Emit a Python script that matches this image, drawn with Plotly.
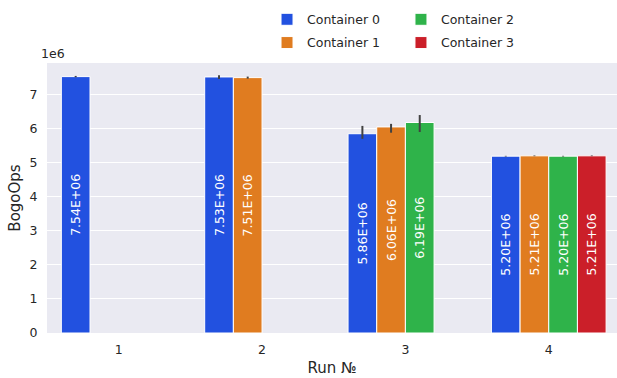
import plotly.graph_objects as go

runs = ["1", "2", "3", "4"]
series_names = ["Container 0", "Container 1", "Container 2", "Container 3"]
c0 = [7.54e6, 7.53e6, 5.86e6, 5.20e6]
c1 = [None, 7.51e6, 6.06e6, 5.21e6]
c2 = [None, None, 6.19e6, 5.20e6]
c3 = [None, None, None, 5.21e6]
c0_err_plus = [0.02e6, 0.05e6, 0.23e6, 0.01e6]
c0_err_minus = [0.02e6, 0.06e6, 0.15e6, 0.01e6]
c1_err_plus = [None, 0.03e6, 0.09e6, 0.01e6]
c1_err_minus = [None, 0.03e6, 0.17e6, 0.01e6]
c2_err_plus = [None, None, 0.22e6, 0.01e6]
c2_err_minus = [None, None, 0.28e6, 0.01e6]
c3_err_plus = [None, None, None, 0.01e6]
c3_err_minus = [None, None, None, 0.01e6]
colors = ["#2251E0", "#E07C20", "#2FB34A", "#CB1F29"]
y_ticks = [0, 1, 2, 3, 4, 5, 6, 7]

values = [c0, c1, c2, c3]
errs_p = [c0_err_plus, c1_err_plus, c2_err_plus, c3_err_plus]
errs_m = [c0_err_minus, c1_err_minus, c2_err_minus, c3_err_minus]
legend_ids = ["legend", "legend", "legend2", "legend2"]

FONT = "DejaVu Sans"
TXT = "#262626"

fig = go.Figure()
for name, vals, ep, em, col, lg in zip(series_names, values, errs_p, errs_m, colors, legend_ids):
    fig.add_trace(go.Bar(
        x=runs, y=vals, name=name,
        marker=dict(color=col, line=dict(color="white", width=1)),
        text=[f"{v:.2E}" if v is not None else "" for v in vals],
        textposition="inside", insidetextanchor="middle", textangle=-90,
        textfont=dict(color="white", size=12.5, family=FONT),
        error_y=dict(type="data", array=ep, arrayminus=em, symmetric=False,
                     color="#424242", thickness=2, width=0),
        legend=lg, legendgroup=name,
    ))

legend_common = dict(orientation="v", yanchor="top", xanchor="left",
                     font=dict(size=12.5, color=TXT, family=FONT), tracegroupgap=4,
                     traceorder="grouped", bgcolor="rgba(0,0,0,0)")

fig.update_layout(
    width=617, height=378,
    margin=dict(l=47, r=0, t=63, b=45, autoexpand=False),
    paper_bgcolor="white", plot_bgcolor="#EAEAF2",
    barmode="group", bargap=0.2, bargroupgap=0,
    font=dict(family=FONT, color=TXT, size=12),
    uniformtext=dict(minsize=12, mode="show"),
    legend=dict(x=0.386, y=1.216, **legend_common),
    legend2=dict(x=0.621, y=1.216, **legend_common),
    xaxis=dict(type="category", range=[-0.5, 3.476], showgrid=False, zeroline=False,
               automargin=False,
               ticks="outside", ticklen=5, tickcolor="rgba(0,0,0,0)",
               tickfont=dict(size=12.5, color=TXT),
               title=dict(text="Run №", font=dict(size=15, color=TXT), standoff=6)),
    yaxis=dict(range=[0, 7.94e6], tickvals=[t * 1e6 for t in y_ticks],
               ticktext=[str(t) for t in y_ticks], automargin=False,
               showgrid=True, gridcolor="white", gridwidth=1, zeroline=False,
               ticks="outside", ticklen=6, tickcolor="rgba(0,0,0,0)",
               tickfont=dict(size=12.5, color=TXT),
               title=dict(text="BogoOps", font=dict(size=15, color=TXT), standoff=5)),
    annotations=[dict(text="1e6", xref="paper", yref="paper", x=0, y=1,
                      xanchor="left", yanchor="bottom", xshift=-8, yshift=0,
                      showarrow=False, font=dict(size=12.5, color=TXT))],
)

fig.write_html("out.html", config={"displayModeBar": False},
               post_script="document.body.style.margin='0';document.body.style.overflow='hidden';")
